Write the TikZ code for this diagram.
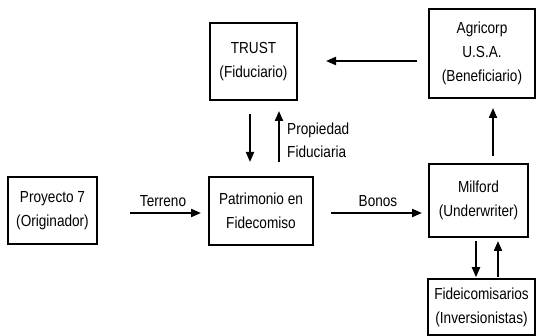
\documentclass[tikz,border=0pt]{standalone}
\usepackage{fontspec}
\setmainfont[FakeStretch=0.85]{Liberation Sans}
\usetikzlibrary{arrows.meta}
\begin{document}
\begin{tikzpicture}[x=1pt,y=-1pt,
  txt/.style={font=\fontsize{16}{24}\selectfont},
  box/.style={draw, line width=2pt, inner sep=0pt, align=center, txt},
  arr/.style={line width=2pt, -{Triangle[length=10pt,width=8pt]}},
  lbl/.style={inner sep=0pt, txt}]
\useasboundingbox (0,0) rectangle (541,336);
\fill[white] (0,0) rectangle (541,336);
\node[box, minimum width=87pt, minimum height=77pt] (trust) at (253.5,61.5) {TRUST\\(Fiduciario)};
\node[box, minimum width=106pt, minimum height=89pt] (agr) at (482,53.5) {Agricorp\\U.S.A.\\(Beneficiario)};
\node[box, minimum width=89pt, minimum height=67pt] (proj) at (52.5,210.5) {Proyecto 7\\(Originador)};
\node[box, minimum width=104pt, minimum height=68pt] (patr) at (261,211) {Patrimonio en\\Fidecomiso};
\node[box, minimum width=99pt, minimum height=73pt] (mil) at (478.5,200.5) {Milford\\(Underwriter)};
\node[box, line width=1.5pt, minimum width=107pt, minimum height=56pt] (fid) at (481.5,307) {Fideicomisarios\\(Inversionistas)};
\draw[arr, shorten <=11pt, shorten >=28pt] (agr.west |- 0,61) -- (trust.east |- 0,61);
\draw[arr, shorten <=13pt, shorten >=14pt] (trust.south -| 250,0) -- (patr.north -| 250,0);
\draw[arr, shorten <=14pt, shorten >=10pt] (patr.north -| 279,0) -- (trust.south -| 279,0);
\draw[arr, shorten <=32pt, shorten >=7pt] (proj.east |- 0,213) -- (patr.west |- 0,213);
\draw[arr, shorten <=17pt, shorten >=6pt] (patr.east |- 0,213) -- (mil.west |- 0,213);
\draw[arr, shorten <=7pt, shorten >=9pt] (mil.north -| 493,0) -- (agr.south -| 493,0);
\draw[arr, shorten <=3pt, shorten >=1pt] (mil.south -| 476,0) -- (fid.north -| 476,0);
\draw[arr, shorten <=1pt, shorten >=3pt] (fid.north -| 498,0) -- (mil.south -| 498,0);
\node[lbl] (terreno) at (163,201) {Terreno};
\node[lbl] (bonos) at (378,201) {Bonos};
\node[lbl, anchor=west] (prop) at (287,130) {Propiedad};
\node[lbl, anchor=west] (fidu) at (287,152) {Fiduciaria};
\end{tikzpicture}
\end{document}
